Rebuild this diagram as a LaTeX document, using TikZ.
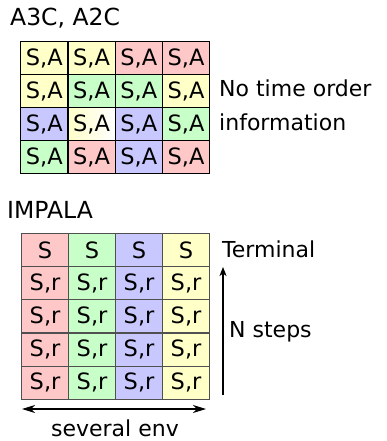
\documentclass[tikz,border=0pt]{standalone}
\usepackage{fontspec}
\setmainfont{DejaVu Sans}
\usetikzlibrary{arrows.meta}
\definecolor{cred}{HTML}{FFC8C8}
\definecolor{cgreen}{HTML}{C8FFC8}
\definecolor{cblue}{HTML}{C8C8FF}
\definecolor{cyel}{HTML}{FFFFC8}
\definecolor{gridgrey}{HTML}{505050}
\begin{document}
\begin{tikzpicture}[x=1pt,y=-1pt,
  cellbase/.style={minimum width=47.25pt, minimum height=33pt, inner sep=0pt,
    anchor=north west, font=\fontsize{22.5}{26}\selectfont},
  acell/.style={cellbase, draw=black, line width=1.3pt},
  icell/.style={cellbase, draw=gridgrey, line width=0.9pt},
  label/.style={anchor=base west, inner sep=0pt, font=\fontsize{22}{26}\selectfont},
  title/.style={anchor=base west, inner sep=0pt, font=\fontsize{23.5}{28}\selectfont},
  cr/.style={fill=cred}, cg/.style={fill=cgreen},
  cb/.style={fill=cblue}, cy/.style={fill=cyel},
  cw/.style={left color=cyel, right color=white},
  arrowline/.style={line width=1.2pt}]
\useasboundingbox (0,0) rectangle (387,441);

% A3C / A2C: shuffled state-action samples
\node[title] (titleA) at (10,25.5) {A3C, A2C};
\foreach \row/\cols in {1/{cy,cy,cr,cr},2/{cy,cg,cg,cy},3/{cb,cw,cb,cg},4/{cg,cr,cb,cr}} {
  \foreach \col [count=\j] in \cols {
    \node[acell,\col] (a-\row-\j) at ({20+47.25*(\j-1)},{41+33*(\row-1)}) {S,A};
  }
}
\node[label] (noteA) at (219,97) {No time order};
\node[label] (noteB) at (219,130) {information};

% IMPALA: one trajectory per environment
\node[title] (titleB) at (7,218) {IMPALA};
\foreach \col [count=\j] in {cr,cg,cb,cy} {
  \node[icell,\col] (b-0-\j) at ({21+47*(\j-1)},233) {S};
  \foreach \row in {1,...,4} {
    \node[icell,\col] (b-\row-\j) at ({21+47*(\j-1)},{233+33.2*\row}) {S,r};
  }
}
\node[label] (term) at (222,257) {Terminal};
\node[label] (nsteps) at (229,337) {N steps};
\coordinate (vstart) at (223,395);
\coordinate (vend) at (223,267);
\draw[arrowline,-{Stealth[length=9pt,width=7pt,inset=2.5pt]}] (vstart) -- (vend);
\coordinate (hstart) at (22,409);
\coordinate (hend) at (206,409);
\draw[arrowline,{Stealth[length=13pt,width=8pt,inset=4pt]}-{Stealth[length=13pt,width=8pt,inset=4pt]}] (hstart) -- (hend);
\node[anchor=base, inner sep=0pt, font=\fontsize{22}{26}\selectfont] (envs) at (115,436) {several env};
\end{tikzpicture}
\end{document}
